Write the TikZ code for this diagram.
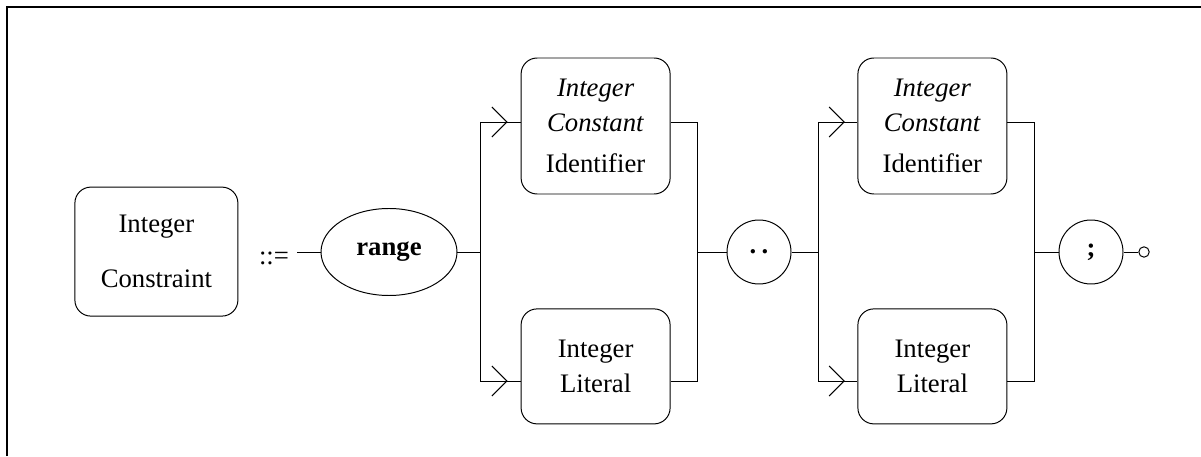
\documentclass[tikz,border=0pt]{standalone}
\usepackage{fontspec}
\setmainfont{Liberation Serif}
\usetikzlibrary{arrows.meta}
\usetikzlibrary{decorations.markings}
\usetikzlibrary{shapes.geometric}

\begin{document}
\begin{tikzpicture}[
        line width=0.7pt,
        font=\fontsize{19}{25}\selectfont,
        rbox/.style={draw, rounded corners=0.4cm, minimum width=3.725cm, align=center, inner sep=0pt},
        tok/.style={draw, circle, minimum size=1.6cm, inner sep=0pt, font=\fontsize{19}{25}\selectfont\bfseries},
        chev/.style={postaction={decorate}, decoration={markings,
                mark=at position #1 with {\arrow{Straight Barb[length=3.75mm, width=7.5mm]}}}},
        ]
        \useasboundingbox (0, 0) rectangle (30.025, 11.4);
        \draw[line width=1pt] (0.175, 0) -- (0.175, 11.225) -- (30.025, 11.225);

        \node[rbox, minimum width=4.075cm, minimum height=3.225cm] (ic) at (3.91, 5.11) {Integer\\[0.5cm]Constraint};
        \node (def) at (6.85, 4.95) {::=};
        \coordinate (s) at (7.425, 5.1);
        \node[draw, ellipse, minimum width=3.4cm, minimum height=2.175cm, inner sep=0pt,
                font=\fontsize{19}{25}\selectfont\bfseries] (rng) at (9.725, 5.1) {range};

        % first choice: low bound
        \coordinate (j1) at (12, 5.1);
        \coordinate (t1) at (12, 8.35);
        \coordinate (b1) at (12, 1.875);
        \node[rbox, minimum height=3.4cm] (ic1) at (14.89, 8.25) {\textit{Integer}\\\textit{Constant}\\[0.15cm]Identifier};
        \node[rbox, minimum height=2.875cm] (il1) at (14.89, 2.24) {Integer\\Literal};
        \coordinate (j2) at (17.425, 5.1);
        \coordinate (t2) at (17.425, 8.35);
        \coordinate (b2) at (17.425, 1.875);

        \node[tok] (dots) at (18.975, 5.1) {.\hspace{0.13cm}.};

        % second choice: high bound
        \coordinate (j3) at (20.45, 5.1);
        \coordinate (t3) at (20.45, 8.35);
        \coordinate (b3) at (20.45, 1.875);
        \node[rbox, minimum height=3.4cm] (ic2) at (23.31, 8.25) {\textit{Integer}\\\textit{Constant}\\[0.15cm]Identifier};
        \node[rbox, minimum height=2.875cm] (il2) at (23.31, 2.24) {Integer\\Literal};
        \coordinate (j4) at (25.85, 5.1);
        \coordinate (t4) at (25.85, 8.35);
        \coordinate (b4) at (25.85, 1.875);

        \node[tok] (semi) at (27.275, 5.1) {;};
        \node[draw, circle, minimum size=0.26cm, inner sep=0pt] (fin) at (28.6, 5.1) {};

        \draw (s) -- (rng);
        \draw (rng) -- (j1);
        \draw (t1) -- (b1);
        \draw[chev=0.68] (t1) -- (t1 -| ic1.west);
        \draw[chev=0.68] (b1) -- (b1 -| il1.west);
        \draw (t2 -| ic1.east) -- (t2) -- (b2) -- (b2 -| il1.east);
        \draw (j2) -- (dots);
        \draw (dots) -- (j3);
        \draw (t3) -- (b3);
        \draw[chev=0.68] (t3) -- (t3 -| ic2.west);
        \draw[chev=0.68] (b3) -- (b3 -| il2.west);
        \draw (t4 -| ic2.east) -- (t4) -- (b4) -- (b4 -| il2.east);
        \draw (j4) -- (semi);
        \draw (semi) -- (fin);
\end{tikzpicture}
\end{document}
